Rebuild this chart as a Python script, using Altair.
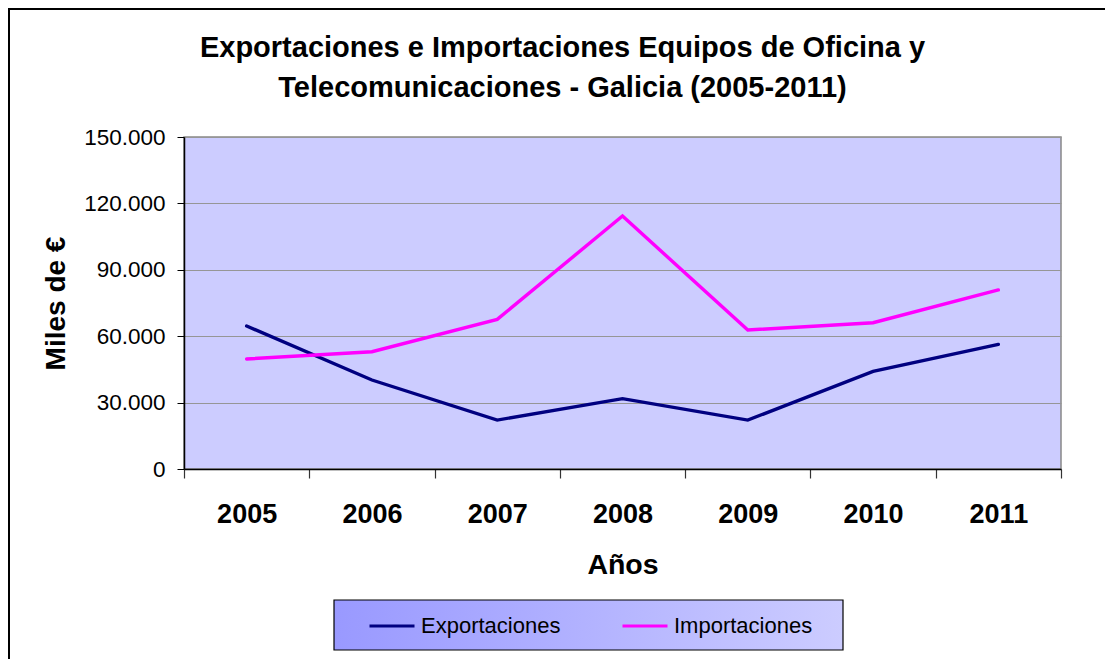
import altair as alt
import pandas as pd

years = ["2005", "2006", "2007", "2008", "2009", "2010", "2011"]
exportaciones = [64600, 40200, 22100, 31800, 22100, 44100, 56300]
importaciones = [49700, 53000, 67600, 114300, 62800, 66100, 80900]
series_names = ["Exportaciones", "Importaciones"]
series_colors = ["#000080", "#FF00FF"]
y_ticks = [0, 30000, 60000, 90000, 120000, 150000]
title_lines = [
    "Exportaciones e Importaciones Equipos de Oficina y",
    "Telecomunicaciones - Galicia (2005-2011)",
]

rows = []
for name, vals in zip(series_names, [exportaciones, importaciones]):
    for yr, v in zip(years, vals):
        rows.append({"Año": yr, "Serie": name, "Valor": v})
df = pd.DataFrame(rows)

FONT = "Liberation Sans"
W, H = 877, 332

lines = alt.Chart(df).mark_line(strokeWidth=3.4, strokeCap="round", strokeJoin="miter").encode(
    x=alt.X("Año:O", sort=years,
            scale=alt.Scale(paddingInner=0, paddingOuter=0),
            axis=alt.Axis(title="Años", labelAngle=0, tickBand="extent", tickSize=9,
                          tickColor="#333333", tickWidth=1.2, domainColor="#000000", domainWidth=1.5,
                          labelFont=FONT, labelFontSize=27, labelFontWeight="bold", labelColor="#000000",
                          labelBaseline="alphabetic", labelPadding=44,
                          titleFont=FONT, titleFontSize=28.5, titleFontWeight="bold", titleColor="#000000",
                          titleBaseline="alphabetic", titleY=104, grid=False)),
    y=alt.Y("Valor:Q",
            scale=alt.Scale(domain=[0, 150000], nice=False),
            axis=alt.Axis(title="Miles de €", values=y_ticks, tickSize=7, tickColor="#000000",
                          domainColor="#000000", domainWidth=1.5,
                          labelExpr="replace(format(datum.value, ','), ',', '.')",
                          labelFont=FONT, labelFontSize=22.5, labelColor="#000000", labelPadding=12,
                          titleFont=FONT, titleFontSize=28, titleFontWeight="bold", titleColor="#000000",
                          titleAngle=270, titleAlign="center", titleBaseline="alphabetic",
                          titleX=-120, titleY=H / 2,
                          grid=True, gridColor="#969696", gridWidth=1.2)),
    color=alt.Color("Serie:N",
                    scale=alt.Scale(domain=series_names, range=series_colors),
                    legend=alt.Legend(title=None, orient="none", legendX=184, legendY=465,
                                      direction="horizontal", symbolType="stroke", symbolSize=2025,
                                      symbolStrokeWidth=3, labelFont=FONT, labelFontSize=22,
                                      labelColor="#000000", labelOffset=5, columnPadding=55,
                                      padding=0)),
)

one = pd.DataFrame({"k": [0]})
legend_box = alt.Chart(one).mark_rect(
    fill=alt.Gradient(gradient="linear", x1=0, x2=1, y1=0, y2=0,
                      stops=[alt.GradientStop(color="#9999FF", offset=0),
                             alt.GradientStop(color="#CCCCFF", offset=1)]),
    stroke="#000000", strokeWidth=1.2,
).encode(x=alt.value(150), x2=alt.value(659), y=alt.value(463), y2=alt.value(513))

frame = alt.Chart(one).mark_rect(fill="transparent", stroke="#000000", strokeWidth=2).encode(
    x=alt.value(-175), x2=alt.value(1300), y=alt.value(-128), y2=alt.value(800))

chart = alt.layer(frame, legend_box, lines).properties(
    width=W, height=H,
    background="#FFFFFF",
    title=alt.TitleParams(text=title_lines, font=FONT, fontSize=29, fontWeight="bold",
                          color="#000000", lineHeight=40, anchor="middle", dx=-60, offset=25, dy=120),
    autosize=alt.AutoSizeParams(type="none"),
    padding={"left": 176, "top": 129, "right": 44, "bottom": 190},
).configure_view(fill="#CCCCFF", stroke="#888888", strokeWidth=1.5)

chart.save("out.html", embed_options={"renderer": "svg", "actions": False})
